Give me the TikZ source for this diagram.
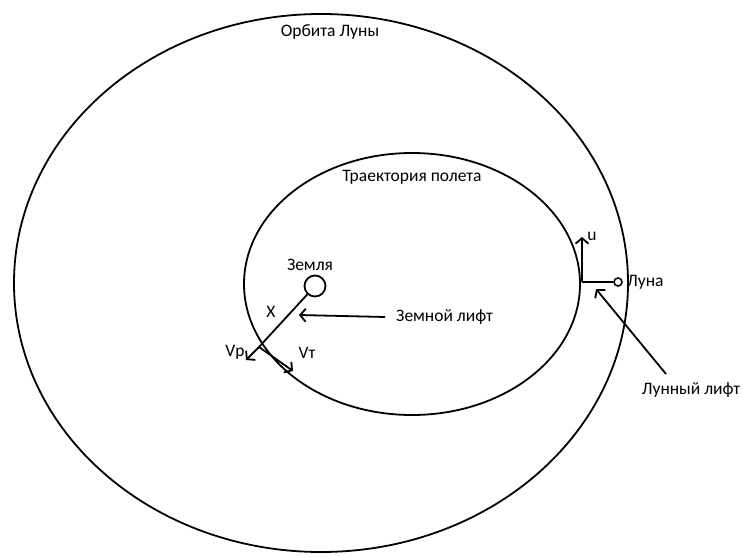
\documentclass[tikz,border=0pt]{standalone}
\usepackage{fontspec}
\setmainfont{Carlito}
\usetikzlibrary{arrows.meta,positioning}

\tikzset{
  orbit/.style={line width=1.8pt},
  vec/.style={line width=1.8pt,-{Straight Barb[length=5.5pt,width=13pt]}},
  lbl/.style={inner sep=1pt,font=\fontsize{17.5}{20}\selectfont}
}

\begin{document}
\begin{tikzpicture}[x=1pt,y=-1pt]
  \useasboundingbox (0,0) rectangle (743,556);

  % orbits
  \draw[orbit] (321,283) ellipse [x radius=307pt, y radius=269pt];
  \draw[orbit] (412,284) ellipse [x radius=168pt, y radius=131pt];
  \node[lbl] (moonorbit) at (330,32) {Орбита Луны};
  \node[lbl] (path) at (412,177) {Траектория полета};

  % Earth side
  \node[circle,draw,line width=1.8pt,minimum size=21pt,inner sep=0pt] (earth) at (315,286) {};
  \node[lbl] (earthlbl) at (310,265) {Земля};
  \coordinate (xp) at (259,347);
  \coordinate (vptip) at (246,360);
  \coordinate (vttip) at (293,371);
  \draw[orbit] (earth) -- (xp);
  \draw[vec] (xp) -- (vptip);
  \draw[vec] (xp) -- (vttip);
  \node[lbl] (xlbl) at (271,312) {Х};
  \node[lbl] (vplbl) at (235,352) {Vр};
  \node[lbl] (vtlbl) at (307,353) {Vт};
  \node[lbl,anchor=west] (elift) at (395,317) {Земной лифт};
  \coordinate (elifttip) at (299,315);
  \draw[vec] ([xshift=-10pt]elift.west) -- (elifttip);

  % Moon side
  \node[circle,draw,line width=1.6pt,minimum size=8pt,inner sep=0pt] (moon) at (618,282) {};
  \node[lbl,anchor=west] (moonlbl) at (626,282) {Луна};
  \coordinate (ubase) at (582,282);
  \coordinate (utip) at (582,237);
  \draw[orbit] (ubase) -- (moon);
  \draw[vec] (ubase) -- (utip);
  \node[lbl] (ulbl) at (592,236) {u};
  \node[lbl] (mlift) at (691,390) {Лунный лифт};
  \coordinate (mlifttail) at (666,374);
  \coordinate (mlifttip) at (596,289);
  \draw[vec] (mlifttail) -- (mlifttip);
\end{tikzpicture}
\end{document}
